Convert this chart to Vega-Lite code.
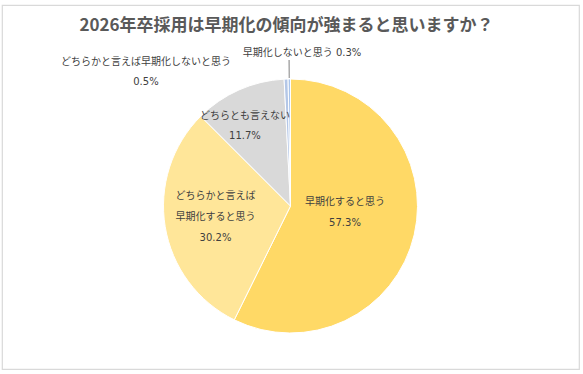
{
  "$schema": "https://vega.github.io/schema/vega-lite/v6.json",
  "autosize": {"type": "none"},
  "width": 577,
  "height": 364,
  "padding": {"left": 2, "top": 5, "right": 4, "bottom": 5},
  "background": "white",
  "view": {"stroke": "#D9D9D9", "strokeWidth": 1.2, "fill": "white"},
  "config": {
    "view": {"stroke": "#D9D9D9", "strokeWidth": 1.2},
    "text": {"font": "DejaVu Sans, Noto Sans CJK JP"}
  },
  "title": {
    "text": "2026年卒採用は早期化の傾向が強まると思いますか？",
    "font": "Noto Sans CJK JP",
    "fontSize": 17,
    "fontWeight": "bold",
    "color": "#595959",
    "anchor": "middle",
    "frame": "group",
    "offset": -30,
    "dx": -4
  },
  "data": {
    "values": [
      {"category": "早期化すると思う", "pct": 57.3, "order": 1, "text": "早期化すると思う\n57.3%"},
      {"category": "どちらかと言えば早期化すると思う", "pct": 30.2, "order": 2, "text": "どちらかと言えば\n早期化すると思う\n30.2%"},
      {"category": "どちらとも言えない", "pct": 11.7, "order": 3, "text": "どちらとも言えない\n11.7%"},
      {"category": "どちらかと言えば早期化しないと思う", "pct": 0.5, "order": 4, "text": "どちらかと言えば早期化しないと思う\n0.5%"},
      {"category": "早期化しないと思う", "pct": 0.3, "order": 5, "text": "早期化しないと思う 0.3%"}
    ]
  },
  "encoding": {
    "theta": {"field": "pct", "type": "quantitative", "stack": true, "scale": {"domain": [0, 100]}},
    "order": {"field": "order", "type": "quantitative"}
  },
  "layer": [
    {
      "mark": {"type": "arc", "radius": 127, "stroke": "white", "strokeWidth": 1, "yOffset": 19},
      "encoding": {
        "color": {
          "field": "category",
          "type": "nominal",
          "scale": {
            "domain": ["早期化すると思う", "どちらかと言えば早期化すると思う", "どちらとも言えない", "どちらかと言えば早期化しないと思う", "早期化しないと思う"],
            "range": ["#FFD966", "#FFE699", "#D9D9D9", "#B4C7E7", "#A9C4EB"]
          },
          "legend": null
        }
      }
    },
    {
      "mark": {"type": "arc", "radius": 146, "radius2": 128, "padAngle": 0.08, "fillOpacity": 0, "stroke": "#A6A6A6", "strokeWidth": 1, "yOffset": 19},
      "encoding": {
        "strokeOpacity": {"condition": {"test": "datum.order == 5", "value": 1}, "value": 0}
      }
    },
    {
      "mark": {"type": "text", "radius": 57, "dx": -1, "dy": 2, "lineBreak": "\n", "lineHeight": 21, "fontSize": 10, "color": "#404040", "baseline": "middle", "align": "center"},
      "encoding": {"text": {"condition": {"test": "datum.order == 1", "field": "text"}, "value": ""}}
    },
    {
      "mark": {"type": "text", "radius": 76, "dx": 0, "dy": -3, "lineBreak": "\n", "lineHeight": 21, "fontSize": 10, "color": "#404040", "baseline": "middle", "align": "center"},
      "encoding": {"text": {"condition": {"test": "datum.order == 2", "field": "text"}, "value": ""}}
    },
    {
      "mark": {"type": "text", "radius": 88, "dx": -9.8, "dy": 9, "lineBreak": "\n", "lineHeight": 20, "fontSize": 10, "color": "#404040", "baseline": "middle", "align": "center"},
      "encoding": {"text": {"condition": {"test": "datum.order == 3", "field": "text"}, "value": ""}}
    },
    {
      "mark": {"type": "text", "radius": 140, "dx": -139.7, "dy": 14.5, "lineBreak": "\n", "lineHeight": 20, "fontSize": 10, "color": "#404040", "baseline": "middle", "align": "center"},
      "encoding": {"text": {"condition": {"test": "datum.order == 4", "field": "text"}, "value": ""}}
    },
    {
      "mark": {"type": "text", "radius": 154, "dx": 13, "dy": 20, "fontSize": 10, "color": "#404040", "baseline": "middle", "align": "center"},
      "encoding": {"text": {"condition": {"test": "datum.order == 5", "field": "text"}, "value": ""}}
    }
  ]
}
